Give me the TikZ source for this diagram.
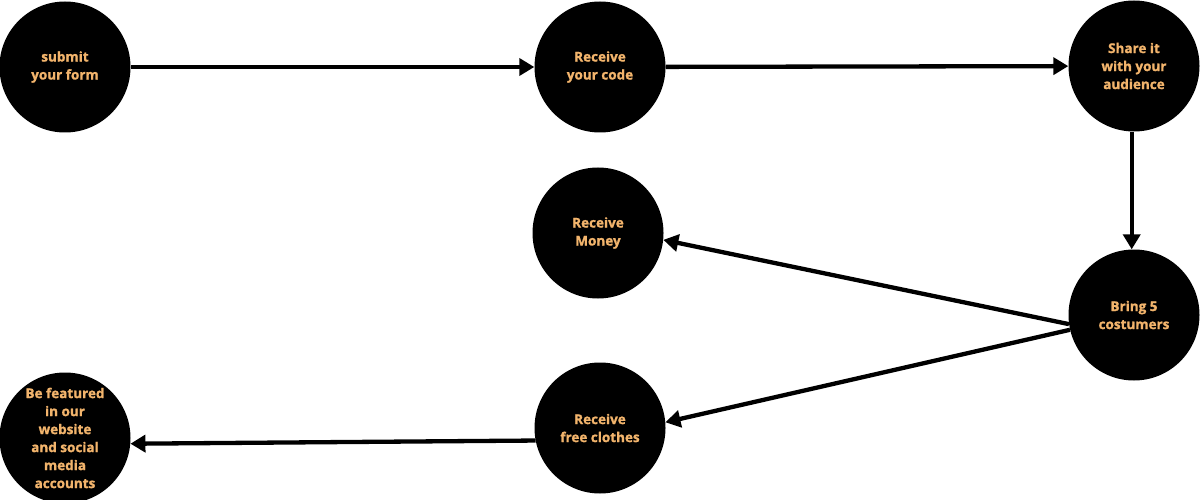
\documentclass[tikz,border=0pt]{standalone}
\usepackage{fontspec}
\setmainfont{Open Sans}[BoldFeatures={FakeBold=1.2}]
\usetikzlibrary{arrows.meta}
\definecolor{labelorange}{HTML}{F2B46C}
\tikzset{
  stepcircle/.style={circle, fill=black, minimum size=131pt, inner sep=0pt,
    text=labelorange, align=center,
    font=\fontsize{13.5}{18}\selectfont\bfseries},
  flow/.style={line width=4.3pt, -{Triangle[length=15pt,width=17pt]}}
}
\begin{document}
\begin{tikzpicture}[x=1pt,y=-1pt]
\useasboundingbox (0,0) rectangle (1200,500);
\node[stepcircle] (n1) at (65,67) {submit\\your form};
\node[stepcircle] (n2) at (600,67) {Receive\\your code};
\node[stepcircle] (n3) at (1134,66) {Share it\\with your\\audience};
\node[stepcircle] (n4) at (598,233) {Receive\\Money};
\node[stepcircle] (n5) at (1134,315) {Bring 5\\costumers};
\node[stepcircle] (n6) at (600,428) {Receive\\free clothes};
\node[stepcircle] (n7) at (65,438) {Be featured\\in our\\website\\and social\\media\\accounts};
\draw[flow] (n1) -- (n2);
\draw[flow] (n2) -- (n3);
\draw[flow] (n3.-92) -- (n5.92);
\draw[flow] (n5.188) -- (n4.-6);
\draw[flow] (n5.193) -- (n6.5);
\draw[flow] (n6.191) -- (n7.-5);
\end{tikzpicture}
\end{document}
